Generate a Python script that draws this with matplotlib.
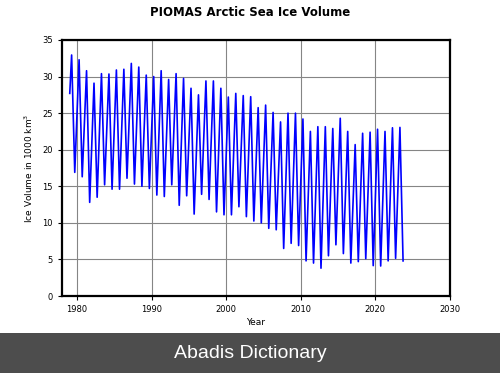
import matplotlib
matplotlib.use("Agg")
import matplotlib.pyplot as plt
from matplotlib.patches import Rectangle

years = list(range(1979, 2024))
start_value = 27.7  # January 1979
april_max = [32.95, 32.3, 30.8, 29.1, 30.4, 30.35, 30.9, 31.0, 31.8, 31.3,
             30.2, 30.0, 30.8, 29.6, 30.4, 29.75, 28.4, 27.5, 29.4, 29.4,
             28.4, 27.2, 27.7, 27.4, 27.25, 25.75, 26.1, 25.1, 23.8, 25.0,
             25.0, 24.2, 22.5, 23.15, 23.15, 22.9, 24.3, 22.5, 20.7, 22.25,
             22.4, 22.8, 22.5, 23.0, 23.05]
sept_min = [16.9, 16.3, 12.8, 13.5, 15.2, 14.6, 14.6, 16.1, 15.3, 15.0,
            14.7, 13.8, 13.6, 15.2, 12.4, 13.7, 11.2, 13.9, 13.2, 11.5,
            11.1, 11.1, 12.2, 10.85, 10.25, 10.0, 9.25, 9.05, 6.5, 7.2,
            6.9, 4.8, 4.5, 3.8, 5.5, 7.0, 5.8, 4.5, 4.7, 5.1,
            4.15, 4.1, 4.8, 5.15, 4.8]

# time series in chronological order: Jan 1979, then April max / September min of each year
t = [1979.04]
v = [start_value]
for y, mx, mn in zip(years, april_max, sept_min):
    t += [y + 0.29, y + 0.71]
    v += [mx, mn]

fig = plt.figure(figsize=(5.0, 3.73), dpi=100)
ax = fig.add_axes([0.124, 0.2064, 0.776, 0.6864])
ax.plot(t, v, color="#0000ff", linewidth=1.2)
ax.set_xlim(1978, 2030)
ax.set_ylim(0, 35)
ax.set_xticks(range(1980, 2031, 10))
ax.set_yticks(range(0, 36, 5))
ax.grid(True, color="#858585", linewidth=0.8)
ax.set_axisbelow(True)
for s in ax.spines.values():
    s.set_linewidth(1.6)
    s.set_color("black")
ax.tick_params(labelsize=6, length=3, width=0.8)
ax.set_xlabel("Year", fontsize=6.5, labelpad=3)
ax.set_ylabel("Ice Volume in 1000 km$^3$", fontsize=6.5, labelpad=5)
fig.text(0.5, 1 - 12 / 373, "PIOMAS Arctic Sea Ice Volume", ha="center", va="center",
         fontsize=8.5, fontweight="bold")

# bottom banner
fig.patches.append(Rectangle((0, 0), 1, 40 / 373, transform=fig.transFigure,
                             facecolor="#4d4d4d", edgecolor="none", zorder=0))
fig.text(0.5, 19 / 373, "Abadis Dictionary", ha="center", va="center", color="white",
         fontsize=14, family="Liberation Sans")

fig.savefig("out.png", dpi=100)
